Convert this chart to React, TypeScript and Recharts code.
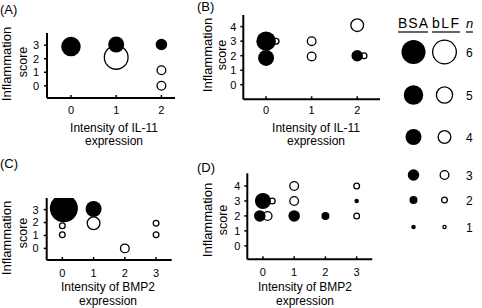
import React from 'react';
import { ScatterChart, Scatter, XAxis, YAxis } from 'recharts';

const FONT = '"Liberation Sans", Arial, Helvetica, sans-serif';
const W = 482;
const H = 308;

type Pt = { x: number; y: number; n: number };

// ---------- data (x = expression intensity, y = inflammation score, n = count) ----------
const A_BSA: Pt[] = [
  { x: 0, y: 2.9, n: 5 },
  { x: 1, y: 3.05, n: 4 },
  { x: 2, y: 3.05, n: 3 },
];
const A_BLF: Pt[] = [
  { x: 1, y: 2.1, n: 6 },
  { x: 2, y: 1.15, n: 3 },
  { x: 2, y: 0, n: 3 },
];
const B_BSA: Pt[] = [
  { x: 0, y: 3, n: 5 },
  { x: 0, y: 1.85, n: 4 },
  { x: 2, y: 2, n: 3 },
];
const B_BLF: Pt[] = [
  { x: 0.22, y: 3, n: 2 },
  { x: 1, y: 3, n: 3 },
  { x: 1, y: 1.95, n: 3 },
  { x: 2, y: 4.1, n: 4 },
  { x: 2.15, y: 2, n: 2 },
];
const C_BSA: Pt[] = [
  { x: 0.05, y: 3.1, n: 7 },
  { x: 1, y: 3.05, n: 4 },
];
const C_BLF: Pt[] = [
  { x: 0, y: 1.75, n: 2 },
  { x: 0, y: 1.05, n: 2 },
  { x: 1, y: 1.95, n: 4 },
  { x: 2, y: 0, n: 3 },
  { x: 3, y: 1.95, n: 2 },
  { x: 3, y: 1.05, n: 2 },
];
const D_BSA: Pt[] = [
  { x: 0, y: 3, n: 4 },
  { x: -0.1, y: 2, n: 3 },
  { x: 1, y: 2, n: 3 },
  { x: 2, y: 2, n: 2 },
  { x: 3, y: 3, n: 1 },
];
const D_BLF: Pt[] = [
  { x: 0.3, y: 3, n: 2 },
  { x: 0.15, y: 2, n: 3 },
  { x: 1, y: 4, n: 3 },
  { x: 1, y: 3, n: 3 },
  { x: 3, y: 4, n: 2 },
  { x: 3, y: 2, n: 2 },
];

const IL11_TICKS = [0, 1, 2];
const BMP2_TICKS = [0, 1, 2, 3];
const SCORE_TICKS_3 = [0, 1, 2, 3];
const SCORE_TICKS_4 = [0, 1, 2, 3, 4];

const LEGEND_N = [6, 5, 4, 3, 2, 1];

// ---------- layout / style ----------
const LEGEND_ROW_Y = [52, 95, 137, 175, 200, 227];
const FILLED_D = [0, 4.5, 8, 11.5, 16, 19.5, 24, 28];
const OPEN_D = [0, 4.5, 7, 10, 14, 17.5, 25, 28];

function filledShape(props: any) {
  const { cx, cy, payload } = props;
  if (cx == null || cy == null) return <g />;
  return <circle cx={cx} cy={cy} r={FILLED_D[payload.n] / 2} fill="#000" />;
}
function openShape(props: any) {
  const { cx, cy, payload } = props;
  if (cx == null || cy == null) return <g />;
  return (
    <circle cx={cx} cy={cy} r={OPEN_D[payload.n] / 2 - 0.65} fill="#fff" stroke="#000" strokeWidth={1.3} />
  );
}

type PanelCfg = {
  plot: { l: number; r: number; t: number; b: number };
  xDomain: [number, number];
  yDomain: [number, number];
  xTicks: number[];
  yTicks: number[];
  xTickMargin: number;
  yTickMargin: number;
  filled: Pt[];
  open: Pt[];
};

const AX_W = 20;
const AX_H = 20;

function Panel({ cfg }: { cfg: PanelCfg }) {
  const { plot } = cfg;
  const axisStyle = { stroke: '#000', strokeWidth: 2 };
  const tickLineStyle = { stroke: '#000', strokeWidth: 1.5 };
  const tickStyle = { fill: '#000', fontSize: 11, fontFamily: FONT };
  return (
    <div style={{ position: 'absolute', left: 0, top: 0, width: W, height: H }}>
      <ScatterChart
        width={W}
        height={H}
        margin={{ top: plot.t, left: plot.l - AX_W, right: W - plot.r, bottom: H - plot.b - AX_H }}
      >
        <XAxis
          type="number"
          dataKey="x"
          domain={cfg.xDomain}
          ticks={cfg.xTicks}
          interval={0}
          allowDataOverflow
          height={AX_H}
          tickSize={-3}
          tickMargin={cfg.xTickMargin}
          axisLine={axisStyle}
          tickLine={tickLineStyle}
          tick={tickStyle}
        />
        <YAxis
          type="number"
          dataKey="y"
          domain={cfg.yDomain}
          ticks={cfg.yTicks}
          interval={0}
          allowDataOverflow
          width={AX_W}
          tickSize={3}
          tickMargin={cfg.yTickMargin}
          axisLine={axisStyle}
          tickLine={tickLineStyle}
          tick={tickStyle}
        />
        <Scatter data={cfg.open} shape={openShape} isAnimationActive={false} />
        <Scatter data={cfg.filled} shape={filledShape} isAnimationActive={false} />
      </ScatterChart>
    </div>
  );
}

const PANELS: PanelCfg[] = [
  {
    plot: { l: 47, r: 175, t: 33, b: 98 },
    xDomain: [-0.53, 2.3],
    yDomain: [-0.9, 3.9],
    xTicks: IL11_TICKS,
    yTicks: SCORE_TICKS_3,
    xTickMargin: 11,
    yTickMargin: 5,
    filled: A_BSA,
    open: A_BLF,
  },
  {
    plot: { l: 243.3, r: 380, t: 15, b: 99.3 },
    xDomain: [-0.5, 2.5],
    yDomain: [-1, 4.8],
    xTicks: IL11_TICKS,
    yTicks: SCORE_TICKS_4,
    xTickMargin: 10,
    yTickMargin: 4,
    filled: B_BSA,
    open: B_BLF,
  },
  {
    plot: { l: 46.7, r: 171.7, t: 198, b: 260 },
    xDomain: [-0.5, 3.5],
    yDomain: [-0.9, 3.9],
    xTicks: BMP2_TICKS,
    yTicks: SCORE_TICKS_3,
    xTickMargin: 12,
    yTickMargin: 5,
    filled: C_BSA,
    open: C_BLF,
  },
  {
    plot: { l: 247.3, r: 372.3, t: 173.3, b: 259.3 },
    xDomain: [-0.5, 3.5],
    yDomain: [-0.9, 4.85],
    xTicks: BMP2_TICKS,
    yTicks: SCORE_TICKS_4,
    xTickMargin: 12,
    yTickMargin: 4,
    filled: D_BSA,
    open: D_BLF,
  },
];

const TITLES = [
  { letter: '(A)', lx: 0, ly: 14, xt: ['Intensity of IL-11', 'expression'], xc: 114, xb: [131.5, 145], y1: [10.5, 64], y2: [27, 62] },
  { letter: '(B)', lx: 197, ly: 11, xt: ['Intensity of IL-11', 'expression'], xc: 316, xb: [131.5, 145], y1: [212, 55], y2: [225.5, 55] },
  { letter: '(C)', lx: 0, ly: 168, xt: ['Intensity of BMP2', 'expression'], xc: 108, xb: [291, 304.5], y1: [10.5, 238], y2: [27, 233] },
  { letter: '(D)', lx: 197, ly: 172, xt: ['Intensity of BMP2', 'expression'], xc: 305, xb: [291, 304.5], y1: [212, 220], y2: [227, 220] },
];

function Legend() {
  const bsa = LEGEND_N.map((n, i) => ({ x: 0, y: LEGEND_ROW_Y[i], n }));
  const blf = LEGEND_N.map((n, i) => ({ x: 1, y: LEGEND_ROW_Y[i], n }));
  return (
    <div style={{ position: 'absolute', left: 0, top: 0, width: W, height: H }}>
      <ScatterChart width={W} height={H} margin={{ top: 0, left: 398, right: W - 460, bottom: 0 }}>
        <XAxis type="number" dataKey="x" domain={[-0.5, 1.5]} hide />
        <YAxis type="number" dataKey="y" domain={[0, H]} reversed hide />
        <Scatter data={blf} shape={openShape} isAnimationActive={false} />
        <Scatter data={bsa} shape={filledShape} isAnimationActive={false} />
      </ScatterChart>
    </div>
  );
}

export default function App() {
  return (
    <div style={{ position: 'absolute', left: 0, top: 0, width: W, height: H, background: '#fff', overflow: 'hidden', fontFamily: FONT }}>
      {PANELS.map((p, i) => (
        <Panel key={i} cfg={p} />
      ))}
      <Legend />
      <svg width={W} height={H} style={{ position: 'absolute', left: 0, top: 0, pointerEvents: 'none' }}>
        <g fontFamily={FONT} fill="#000">
          {TITLES.map((t, i) => (
            <g key={i}>
              <text x={t.lx} y={t.ly} fontSize={13}>{t.letter}</text>
              <text x={t.xc} y={t.xb[0]} fontSize={12} textAnchor="middle">{t.xt[0]}</text>
              <text x={t.xc} y={t.xb[1]} fontSize={12} textAnchor="middle">{t.xt[1]}</text>
              <text transform={`translate(${t.y1[0]},${t.y1[1]}) rotate(-90)`} fontSize={13} textAnchor="middle">Inflammation</text>
              <text transform={`translate(${t.y2[0]},${t.y2[1]}) rotate(-90)`} fontSize={12.5} textAnchor="middle">score</text>
            </g>
          ))}
          <text x={398} y={28} fontSize={14} textLength={30} lengthAdjust="spacing">BSA</text>
          <text x={432} y={28} fontSize={14} textLength={27} lengthAdjust="spacing">bLF</text>
          <text x={466} y={28} fontSize={13} fontStyle="italic">n</text>
          <line x1={398} x2={428} y1={32} y2={32} stroke="#000" strokeWidth={1.2} />
          <line x1={432} x2={460} y1={32} y2={32} stroke="#000" strokeWidth={1.2} />
          <line x1={466} x2={473} y1={32} y2={32} stroke="#000" strokeWidth={1.2} />
          {LEGEND_N.map((n, i) => (
            <text key={n} x={466} y={LEGEND_ROW_Y[i] + 4.5} fontSize={12}>{n}</text>
          ))}
        </g>
      </svg>
    </div>
  );
}
